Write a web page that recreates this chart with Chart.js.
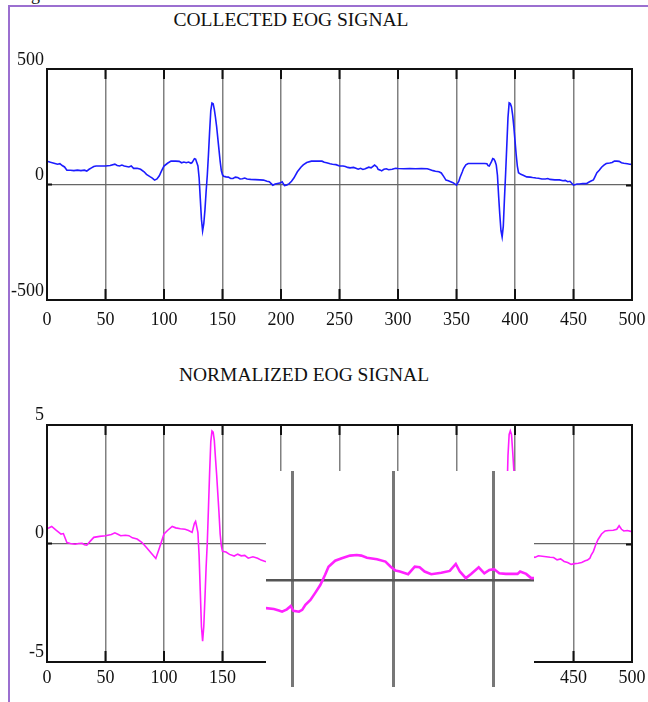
<!DOCTYPE html>
<html>
<head>
<meta charset="utf-8">
<script src="https://cdn.jsdelivr.net/npm/chart.js@4/dist/chart.umd.min.js"></script>
<style>
  html, body { margin: 0; padding: 0; background: #fff; }
  #page { position: relative; width: 648px; height: 702px; overflow: hidden; background: #fff; font-family: 'Liberation Serif', 'Times New Roman', serif; color: #111; }
  .border { position: absolute; left: 8px; top: 5px; width: 700px; height: 800px; border-left: 2px solid #9b6fd0; border-top: 2px solid #9b6fd0; }
  .title { position: absolute; font-size: 19.5px; white-space: nowrap; transform: translateX(-50%); }
  .cut { position: absolute; left: 31px; top: -15px; font-size: 18px; line-height: 1; }
  canvas { position: absolute; }
  #inset { background: #fff; }
</style>
</head>
<body>
<div id="page">
  <div class="border"></div>
  <span class="cut">g</span>
  <div class="title" style="left:291px; top:9px;">COLLECTED EOG SIGNAL</div>
  <div class="title" style="left:304px; top:364px;">NORMALIZED EOG SIGNAL</div>
  <canvas id="chart-collected" width="648" height="300" style="left:0; top:40px;"></canvas>
  <canvas id="chart-normalized" width="648" height="307" style="left:0; top:395px;"></canvas>
  <canvas id="inset" width="268" height="231" style="left:266px; top:471px;"></canvas>
</div>
<script>
// tick values
const xTicks = [0, 50, 100, 150, 200, 250, 300, 350, 400, 450, 500];
const collectedYTicks = [-500, 0, 500];
const normalizedYTicks = [-5, 0, 5];
const insetGridX = [200, 250, 300];
const insetGridY = [0];

// collected EOG signal (samples)
const collectedX = [0, 3, 6, 9, 11, 13, 15, 17, 20, 23, 26, 29, 32, 34, 36, 38, 40, 42, 46, 50, 54, 58, 60, 62, 64, 66, 68, 70, 72, 74, 77, 80, 83, 85, 88, 90, 92, 94, 96, 98, 100, 103, 106, 110, 113, 115, 117, 119, 121, 123, 124, 126, 127, 128, 129, 130, 131, 132, 133, 134, 135, 136, 137, 138, 139, 140, 141, 142, 143, 144, 145, 146, 147, 148, 149, 150, 151, 153, 155, 157, 159, 161, 163, 165, 167, 169, 171, 174, 178, 182, 185, 188, 190, 193, 195, 197, 199, 201, 203, 205, 207, 209, 211, 214, 217, 219, 222, 226, 231, 235, 237, 239, 242, 244, 247, 250, 253, 255, 257, 259, 262, 264, 266, 268, 270, 272, 275, 277, 280, 282, 283, 285, 286, 288, 290, 292, 295, 298, 300, 305, 310, 315, 320, 325, 327, 330, 332, 335, 337, 339, 341, 343, 345, 347, 350, 352, 353, 355, 356, 358, 360, 365, 370, 374, 376, 377, 378, 380, 381, 382, 383, 384, 385, 386, 387, 388, 389, 390, 391, 392, 393, 394, 395, 396, 397, 398, 399, 400, 401, 402, 403, 405, 407, 410, 413, 415, 418, 420, 423, 426, 428, 430, 434, 438, 441, 443, 445, 447, 450, 453, 455, 458, 461, 463, 465, 467, 468, 470, 472, 474, 476, 478, 481, 483, 485, 487, 489, 491, 493, 496, 498, 500];
const collectedY = [101, 96, 92, 88, 90, 82, 76, 62, 62, 60, 62, 60, 62, 58, 66, 72, 78, 80, 80, 80, 82, 88, 82, 80, 84, 80, 78, 76, 80, 70, 70, 66, 55, 44, 34, 28, 19, 24, 38, 60, 80, 92, 101, 101, 100, 94, 97, 94, 97, 92, 95, 112, 110, 95, 80, 30, -60, -150, -201, -170, -110, -30, 40, 130, 230, 320, 353, 350, 325, 290, 250, 200, 150, 100, 60, 42, 36, 33, 32, 26, 26, 32, 30, 24, 25, 28, 24, 22, 21, 20, 19, 14, 12, -3, 2, 4, 6, 12, -5, -2, 4, 14, 28, 55, 75, 85, 95, 101, 101, 101, 96, 94, 90, 88, 86, 80, 80, 78, 74, 72, 74, 70, 66, 70, 65, 68, 75, 72, 84, 76, 66, 62, 59, 66, 68, 64, 66, 70, 69, 68, 69, 68, 69, 68, 65, 60, 57, 55, 50, 35, 19, 16, 12, 8, -3, 14, 30, 55, 69, 85, 91, 91, 91, 91, 90, 82, 80, 100, 112, 110, 100, 84, 40, -50, -130, -200, -227, -180, -60, 50, 170, 290, 353, 350, 336, 300, 250, 190, 130, 80, 51, 44, 40, 33, 32, 30, 28, 27, 24, 24, 26, 22, 20, 20, 16, 18, 12, 14, -3, 2, 2, 4, 4, 10, 15, 20, 30, 51, 62, 75, 84, 91, 93, 95, 101, 101, 100, 94, 92, 90, 88, 87];

// normalized EOG signal (samples)
const normalizedX = [0, 4, 8, 12, 14, 17, 20, 24, 27, 30, 32, 34, 37, 40, 45, 50, 55, 58, 61, 63, 67, 70, 73, 77, 81, 85, 89, 93, 96, 100, 103, 107, 110, 114, 118, 121, 124, 126, 127, 128, 129, 130, 131, 132, 133, 134, 135, 136, 137, 138, 139, 140, 141, 142, 143, 144, 145, 146, 147, 148, 149, 150, 153, 156, 160, 163, 166, 169, 172, 176, 180, 183, 186, 190, 194, 198, 201, 203, 206, 210, 214, 218, 222, 226, 231, 235, 240, 245, 250, 255, 260, 265, 270, 275, 280, 283, 286, 290, 295, 300, 310, 320, 327, 332, 337, 341, 345, 350, 353, 356, 360, 365, 370, 376, 378, 381, 383, 384, 385, 386, 387, 388, 389, 390, 391, 392, 393, 394, 395, 396, 397, 398, 399, 400, 401, 402, 403, 406, 410, 413, 417, 420, 425, 430, 433, 436, 439, 442, 445, 448, 451, 454, 457, 460, 462, 464, 465, 467, 469, 471, 474, 477, 480, 484, 487, 489, 491, 493, 496, 500];
const normalizedY = [0.62, 0.72, 0.55, 0.40, 0.42, 0.04, 0.0, -0.03, 0.0, 0.01, -0.05, -0.07, 0.1, 0.26, 0.3, 0.33, 0.38, 0.45, 0.38, 0.33, 0.35, 0.33, 0.24, 0.19, 0.05, -0.17, -0.4, -0.63, -0.2, 0.40, 0.55, 0.72, 0.66, 0.62, 0.6, 0.55, 0.47, 0.85, 0.93, 0.7, 0.46, -0.5, -2.0, -3.5, -4.12, -3.5, -2.3, -1.0, 0.03, 1.5, 3.0, 4.3, 4.75, 4.7, 4.35, 3.6, 2.9, 2.1, 1.3, 0.4, -0.1, -0.33, -0.36, -0.46, -0.53, -0.45, -0.52, -0.5, -0.62, -0.56, -0.62, -0.7, -0.75, -0.8, -1.0, -0.9, -0.8, -1.05, -0.9, -0.6, -0.1, 0.4, 0.6, 0.66, 0.66, 0.66, 0.55, 0.45, 0.32, 0.28, 0.2, 0.16, 0.08, 0.24, 0.38, 0.1, 0.0, 0.14, 0.1, 0.14, 0.14, 0.14, 0.08, -0.05, -0.16, -0.66, -0.77, -1.0, -0.48, 0.14, 0.5, 0.5, 0.5, 0.48, 0.32, 0.84, 0.64, 0.4, -0.3, -1.8, -3.0, -4.2, -4.6, -3.9, -2.0, -0.2, 1.8, 3.7, 4.6, 4.75, 4.6, 3.9, 3.1, 2.1, 1.1, 0.3, -0.15, -0.3, -0.44, -0.5, -0.59, -0.52, -0.55, -0.58, -0.59, -0.69, -0.65, -0.76, -0.8, -0.88, -0.85, -0.83, -0.8, -0.73, -0.7, -0.62, -0.5, -0.33, -0.05, 0.17, 0.4, 0.53, 0.55, 0.56, 0.6, 0.75, 0.6, 0.53, 0.55, 0.5];

// zoomed detail of the normalized signal
const insetX = [186.4, 190.5, 193, 194.6, 197, 198.9, 200.2, 203, 204.6, 206.2, 208.7, 211, 213.6, 216, 217.7, 221, 224.3, 228.4, 231.7, 234, 236.8, 241.8, 246, 248.6, 251, 253.2, 257.3, 260.6, 263, 265.5, 268.8, 273.8, 278, 281, 283, 286, 288.6, 292.4, 295.2, 297.7, 300, 302.6, 305.9, 311.7, 313, 316, 318.5, 319.9];
const insetY = [-0.94, -0.97, -1.02, -1.06, -0.98, -0.87, -1.03, -1.06, -1.0, -0.83, -0.67, -0.44, -0.17, 0.17, 0.44, 0.64, 0.72, 0.81, 0.83, 0.81, 0.74, 0.69, 0.61, 0.44, 0.31, 0.28, 0.19, 0.44, 0.42, 0.28, 0.19, 0.24, 0.30, 0.53, 0.28, 0.06, 0.2, 0.42, 0.22, 0.33, 0.36, 0.22, 0.2, 0.2, 0.28, 0.2, 0.06, 0.06];

const toPoints = (xs, ys) => xs.map((x, i) => ({ x, y: ys[i] }));
const setTicks = values => scale => { scale.ticks = values.map(v => ({ value: v })); };

// frame around the plot with short inward tick marks
const framePlugin = {
  id: 'frame',
  afterDatasetsDraw(chart) {
    const { ctx, chartArea: a, scales } = chart;
    ctx.save();
    ctx.strokeStyle = '#111';
    ctx.lineWidth = 2;
    ctx.strokeRect(a.left, a.top, a.right - a.left, a.bottom - a.top);
    ctx.beginPath();
    scales.x.ticks.forEach(t => {
      const px = scales.x.getPixelForValue(t.value);
      ctx.moveTo(px, a.top); ctx.lineTo(px, a.top + 10);
      ctx.moveTo(px, a.bottom); ctx.lineTo(px, a.bottom - 11);
    });
    const zy = scales.y.getPixelForValue(0);
    ctx.moveTo(a.left, zy); ctx.lineTo(a.left + 5, zy);
    ctx.moveTo(a.right, zy + 1); ctx.lineTo(a.right - 6, zy + 1);
    ctx.stroke();
    ctx.restore();
  }
};

const tickFont = { family: "'Liberation Serif', 'Times New Roman', serif", size: 18 };

function signalChart(id, xs, ys, color, yTicks, yMax, labelOffset, xPad, topPad) {
  return new Chart(document.getElementById(id).getContext('2d'), {
    type: 'line',
    data: {
      datasets: [{
        data: toPoints(xs, ys),
        borderColor: color,
        borderWidth: 1.6,
        pointRadius: 0,
        tension: 0
      }]
    },
    options: {
      responsive: false,
      animation: false,
      layout: { padding: { top: topPad, right: 16, left: 0, bottom: 0 } },
      plugins: { legend: { display: false }, tooltip: { enabled: false } },
      scales: {
        x: {
          type: 'linear',
          min: 0,
          max: 500,
          afterBuildTicks: setTicks(xTicks),
          afterFit: s => { s.height = 40; s.paddingLeft = 0; s.paddingRight = 0; },
          grid: { color: '#808080', lineWidth: 1.5, drawTicks: false },
          border: { display: false },
          ticks: { color: '#111', font: tickFont, padding: xPad, maxRotation: 0 }
        },
        y: {
          min: -yMax,
          max: yMax,
          afterBuildTicks: setTicks(yTicks),
          afterFit: s => { s.width = 47; s.paddingTop = 0; s.paddingBottom = 0; },
          grid: {
            drawTicks: false,
            lineWidth: 1.2,
            color: c => (c.tick && c.tick.value === 0 ? '#666' : 'rgba(0,0,0,0)')
          },
          border: { display: false },
          ticks: { color: '#111', font: tickFont, padding: 3, labelOffset: labelOffset }
        }
      }
    },
    plugins: [framePlugin]
  });
}

signalChart('chart-collected', collectedX, collectedY, '#1c1cff', collectedYTicks, 500, -9, 9, 29);
signalChart('chart-normalized', normalizedX, normalizedY, '#ff1cff', normalizedYTicks, 5, -10, 5, 30);

// inset: zoomed piece of the normalized signal
new Chart(document.getElementById('inset').getContext('2d'), {
  type: 'line',
  data: {
    datasets: [{
      data: toPoints(insetX, insetY),
      borderColor: '#ff22ff',
      borderWidth: 2.6,
      pointRadius: 0,
      tension: 0
    }]
  },
  options: {
    responsive: false,
    animation: false,
    layout: { padding: { top: 0, right: 0, left: 0, bottom: 15 } },
    plugins: { legend: { display: false }, tooltip: { enabled: false } },
    scales: {
      x: {
        type: 'linear',
        min: 186.6,
        max: 319.9,
        afterBuildTicks: setTicks(insetGridX),
        afterFit: s => { s.height = 0; },
        grid: { color: '#777', lineWidth: 3, drawTicks: false },
        border: { display: false },
        ticks: { display: false }
      },
      y: {
        min: -3.57,
        max: 3.63,
        afterBuildTicks: setTicks(insetGridY),
        afterFit: s => { s.width = 0; },
        grid: { color: '#555', lineWidth: 2.5, drawTicks: false },
        border: { display: false },
        ticks: { display: false }
      }
    }
  }
});
</script>
</body>
</html>
